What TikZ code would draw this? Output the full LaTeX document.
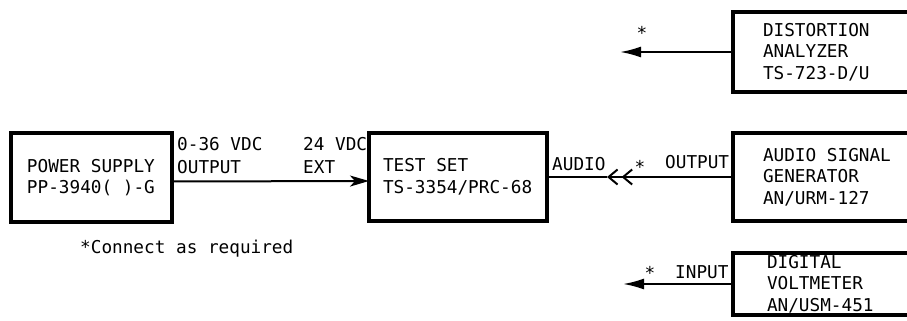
\documentclass[tikz,border=0pt]{standalone}
\usepackage{fontspec}
\newfontfamily\leroy{DejaVu Sans Mono}
\usetikzlibrary{arrows.meta}

\begin{document}
\begin{tikzpicture}[x=1pt, y=-1pt,
    every node/.style={font=\leroy\fontsize{17.7}{21.5}\selectfont},
    unit/.style={draw, line width=3.2pt, align=flush left, inner ysep=0pt, outer sep=0pt, anchor=north west},
    lbl/.style={anchor=base west, inner sep=0pt},
    wire/.style={line width=2pt},
    probe/.style={wire, -{Latex[length=21pt, width=11pt]}}]
    \useasboundingbox (0, 0) rectangle (907, 321);

    \node[unit, inner xsep=16pt, text width=129pt, minimum height=89pt] (psu) at (11, 133) {POWER SUPPLY\\PP-3940( )-G};
    \node[unit, inner xsep=14pt, text width=150pt, minimum height=88pt] (tset) at (369, 133) {TEST SET\\TS-3354/PRC-68};
    \node[unit, inner xsep=30pt, text width=150pt, minimum height=80pt] (dist) at (733, 12) {DISTORTION\\ANALYZER\\TS-723-D/U};
    \node[unit, inner xsep=30pt, text width=150pt, minimum height=88pt] (agen) at (733, 133) {AUDIO SIGNAL\\GENERATOR\\AN/URM-127};
    \node[unit, inner xsep=34pt, text width=150pt, minimum height=62pt] (dvm) at (733, 253) {DIGITAL\\VOLTMETER\\AN/USM-451};

    \draw[wire, -{Stealth[length=19pt, width=11pt, inset=5pt]}] ([yshift=-4pt]psu.east) -- ([yshift=-4pt]tset.west);

    \coordinate (jack) at (607, 177);
    \draw[wire, -{Straight Barb[length=9pt, width=15pt, sep=3pt] Straight Barb[length=9pt, width=15pt]}] (agen.west) -- (jack);
    \draw[wire] (jack) -- (tset.east);

    \coordinate (dtip) at (620, 52);
    \draw[probe] (dist.west) -- (dtip);
    \coordinate (vtip) at (623, 284);
    \draw[probe] (dvm.west) -- (vtip);

    \node[lbl] (psuvolt) at (177, 150) {0-36 VDC};
    \node[lbl] (psuout) at (177, 173) {OUTPUT};
    \node[lbl] (extvolt) at (303, 150) {24 VDC};
    \node[lbl] (extin) at (303, 173) {EXT};
    \node[lbl] (audio) at (552, 170) {AUDIO};
    \node[lbl] (genout) at (665, 168) {OUTPUT};
    \node[lbl] (dvmin) at (675, 278) {INPUT};
    \node[lbl] (note) at (80, 253) {*Connect as required};

    \node[inner sep=0pt] (dstar) at (642, 33) {*};
    \node[inner sep=0pt] (gstar) at (640, 167) {*};
    \node[inner sep=0pt] (vstar) at (650, 273) {*};
\end{tikzpicture}
\end{document}
